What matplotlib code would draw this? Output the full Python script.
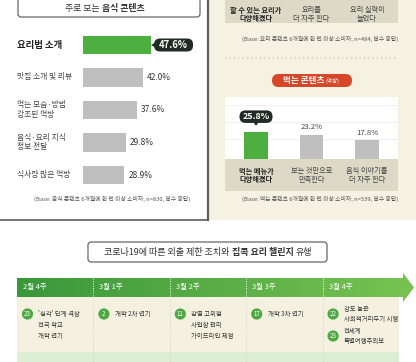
import numpy as np
import matplotlib
matplotlib.use('Agg')
import matplotlib.pyplot as plt
from matplotlib import transforms
from matplotlib.patches import FancyBboxPatch, Rectangle, Polygon, Circle

plt.rcParams['font.family'] = ['Noto Sans CJK KR', 'DejaVu Sans']

# 주로 보는 음식 콘텐츠
content_labels = ['요리법 소개', '맛집 소개 및 리뷰', '먹는 모습·방법\n강조된 먹방',
                  '음식·요리 지식\n정보 전달', '식사량 많은 먹방']
content_values = [47.6, 42.0, 37.6, 29.8, 28.9]

# 요리 콘텐츠 (윗부분만 보임)
cook_labels = ['할 수 있는 요리가\n다양해졌다', '요리를\n더 자주 한다', '요리 실력이\n늘었다']

# 먹는 콘텐츠 (먹방)
eat_labels = ['먹는 메뉴가\n다양해졌다', '보는 것만으로\n만족한다', '음식 이야기를\n더 자주 한다']
eat_values = [25.8, 23.2, 17.8]

notes = ['(Base: 음식 콘텐츠 6개월에 한 번 이상 소비자, n=830, 복수 응답)',
         '(Base: 요리 콘텐츠 6개월에 한 번 이상 소비자, n=484, 복수 응답)',
         '(Base: 먹는 콘텐츠 6개월에 한 번 이상 소비자, n=539, 복수 응답)']

# 타임라인
weeks = ['2월 4주', '3월 1주', '3월 2주', '3월 3주', '3월 4주']
event_week = [0, 1, 2, 3, 4, 4]
event_day = ['23', '2', '11', '17', '22', '23']
event_text = ["'심각' 단계 격상\n전국 학교\n개학 연기", '개학 2차 연기',
              '감염 고위험\n사업장 관리\n가이드라인 제정', '개학 3차 연기',
              '강도 높은\n사회적거리두기 시행', '전세계\n특별여행주의보']

W, H = 416, 362
GREEN = '#4caf40'
GRAY = '#bfbfbf'
DARK = '#1f2b23'
CREAM = '#f6f2e3'
BAND = '#dcd9c7'

fig = plt.figure(figsize=(W / 100, H / 100), dpi=100)


def pixel_axes(z):
    a = fig.add_axes([0, 0, 1, 1], zorder=z)
    a.set_xlim(0, W)
    a.set_ylim(H, 0)
    a.axis('off')
    a.patch.set_alpha(0)
    return a


canvas = pixel_axes(0)    # 배경
over = pixel_axes(5)      # 글자, 말풍선


def px_axes(x, y, w, h, **kw):
    return fig.add_axes([x / W, 1 - (y + h) / H, w / W, h / H], zorder=1, **kw)


def rich_text(x, y, parts, color='#333333', gap=0):
    # parts: (텍스트, 굵기, 크기) 를 이어 붙여 가운데 정렬
    r = fig.canvas.get_renderer()
    texts = [over.text(0, y, s, fontsize=sz, fontweight=wt, color=color,
                       va='center', ha='left') for s, wt, sz in parts]
    widths = [t.get_window_extent(r).width for t in texts]
    cur = x - (sum(widths) + gap * (len(texts) - 1)) / 2
    for t, w in zip(texts, widths):
        t.set_x(cur)
        cur += w + gap


def to_px(ax, x, y):
    return over.transData.inverted().transform(ax.transData.transform((x, y)))


# ---------- 배경 ----------
canvas.add_patch(Rectangle((208, 0), W - 208, 220, fc=CREAM, ec='none'))
canvas.plot([207.5, 207.5], [0, 220], color='#5a5f5a', lw=1.6)
canvas.plot([0, 207.5], [220, 220], color='#5a5f5a', lw=1.2)

# ---------- 왼쪽: 주로 보는 음식 콘텐츠 ----------
canvas.add_patch(FancyBboxPatch((18, -10), 182, 27, boxstyle='round,pad=0,rounding_size=3',
                                fc='white', ec='#555555', lw=0.8))
rich_text(105, 8.5, [('주로 보는', 'normal', 6.4), ('음식 콘텐츠', 'bold', 6.4)], gap=3)

axL = px_axes(83, 28.75, 124, 162.5)
axL.barh(range(len(content_values)), content_values, height=0.58,
         color=[GREEN] + [GRAY] * (len(content_values) - 1))
axL.set_xlim(0, 124 / 1.43)
axL.set_ylim(len(content_values) - 0.5, -0.5)
axL.axis('off')

trL = transforms.blended_transform_factory(over.transData, axL.transData)
for i, (lab, v) in enumerate(zip(content_labels, content_values)):
    bx, by = to_px(axL, v, i)
    if i == 0:
        over.text(17, i, lab, transform=trL, fontsize=6.8, fontweight='bold',
                  color='#222222', va='center', ha='left')
        over.add_patch(FancyBboxPatch((bx + 3, by - 6.5), 39, 13,
                                      boxstyle='round,pad=0,rounding_size=6',
                                      fc=DARK, ec='none'))
        over.add_patch(Polygon([(bx, by), (bx + 5, by - 3), (bx + 5, by + 3)],
                               fc=DARK, ec='none'))
        over.text(bx + 22.5, by, f'{v:.1f}%', fontsize=6.8, fontweight='bold',
                  color='white', va='center', ha='center')
    else:
        over.text(17, i, lab, transform=trL, fontsize=5.6, color='#444444',
                  va='center', ha='left', linespacing=1.3)
        over.text(bx + 4, by, f'{v:.1f}%', fontsize=6, color='#333333',
                  va='center', ha='left')

over.text(112, 199, notes[0], fontsize=4.2, color='#555555', ha='center', va='center')

# ---------- 오른쪽 위: 요리 콘텐츠 ----------
canvas.add_patch(Rectangle((225, -5), 173, 28, fc=BAND, ec='none'))
over.text(320, 39, notes[1], fontsize=4.2, color='#555555', ha='center', va='center')
canvas.plot([225, 398], [58, 58], color='#d8d4c2', lw=1.3, ls=(0, (0.8, 1.6)))

# ---------- 오른쪽 아래: 먹는 콘텐츠 ----------
canvas.add_patch(FancyBboxPatch((272, 74), 80, 13, boxstyle='round,pad=0,rounding_size=6.5',
                                fc='#d6472a', ec='none'))
rich_text(311, 80.5, [('먹는 콘텐츠', 'bold', 6.2), ('(먹방)', 'normal', 4.0)],
          color='white', gap=1.5)

axR = px_axes(225, 97, 173, 62, facecolor='white')
axR.bar(range(len(eat_values)), eat_values, width=0.42,
        color=[GREEN] + [GRAY] * (len(eat_values) - 1), zorder=3)
axR.set_xlim(-0.559, 2.559)
axR.set_ylim(0, 62 / 1.05)
axR.set_yticks(np.arange(19, 59, 16))
axR.grid(axis='y', color='#eeeeee', lw=0.6)
axR.tick_params(length=0, labelleft=False, labelbottom=False)
for s in axR.spines.values():
    s.set_visible(False)

canvas.add_patch(Rectangle((225, 159), 173, 32, fc=BAND, ec='none'))
trR = transforms.blended_transform_factory(axR.transData, over.transData)
for i, (lab, top_lab, v) in enumerate(zip(eat_labels, cook_labels, eat_values)):
    wt = 'bold' if i == 0 else 'normal'
    col = '#222222' if i == 0 else '#444444'
    over.text(i, 175.5, lab, transform=trR, fontsize=5.2, fontweight=wt, color=col,
              ha='center', va='center', linespacing=1.3)
    over.text(i, 14.5, top_lab, transform=trR, fontsize=5.2, fontweight=wt, color=col,
              ha='center', va='center', linespacing=1.3)
    bx, by = to_px(axR, i, v)
    if i == 0:
        over.add_patch(FancyBboxPatch((bx - 16.5, by - 21.5), 33, 12.5,
                                      boxstyle='round,pad=0,rounding_size=6',
                                      fc=DARK, ec='none'))
        over.add_patch(Polygon([(bx - 2.5, by - 9.5), (bx + 2.5, by - 9.5), (bx, by - 6)],
                               fc=DARK, ec='none'))
        over.text(bx, by - 15.3, f'{v:.1f}%', fontsize=6.4, fontweight='bold',
                  color='white', ha='center', va='center')
    else:
        over.text(bx, by - 7.5, f'{v:.1f}%', fontsize=5.6, color='#444444',
                  ha='center', va='center')

over.text(320, 199, notes[2], fontsize=4.2, color='#555555', ha='center', va='center')

# ---------- 아래: 타임라인 ----------
canvas.add_patch(FancyBboxPatch((88, 242), 239, 20, boxstyle='round,pad=0,rounding_size=3',
                                fc='white', ec='#555555', lw=0.8))
rich_text(208, 252, [('코로나19에 따른 외출 제한 조치와', 'normal', 6.5),
                     ('집콕 요리 챌린지', 'bold', 6.5), ('유행', 'normal', 6.5)], gap=2.5)

x_left, x_right = 17, 399
col_w = (x_right - x_left) / len(weeks)
arrow = Polygon([(x_left, 278), (403, 278), (403, 273), (414, 287.5),
                 (403, 302), (403, 297), (x_left, 297)], closed=True,
                fc='none', ec='none')
canvas.add_patch(arrow)
grad = np.linspace(0, 1, 256)[None, :]
cmap = matplotlib.colors.LinearSegmentedColormap.from_list('g', ['#3a983a', '#78c352'])
im = canvas.imshow(grad, cmap=cmap, extent=[x_left, 414, 302, 273], aspect='auto', zorder=1)
im.set_clip_path(arrow)
canvas.set_xlim(0, W)
canvas.set_ylim(H, 0)

canvas.add_patch(Rectangle((x_left, 297), x_right - x_left, 55, fc='#f4f1e1', ec='none'))
canvas.add_patch(Rectangle((x_left, 352), x_right - x_left, 12, fc='#dcefd4', ec='none'))

for k, wk in enumerate(weeks):
    x0 = x_left + k * col_w
    over.text(x0 + 6, 287.5, wk, fontsize=5.4, color='white', fontweight='medium',
              ha='left', va='center')
    if k > 0:
        canvas.plot([x0, x0], [278, 297], color='white', lw=0.7, ls=(0, (1, 1.5)), zorder=3)
        canvas.plot([x0, x0], [297, 362], color='#d6d2c0', lw=0.7, ls=(0, (1, 1.5)))

for k in range(len(weeks)):
    idx = [j for j, w in enumerate(event_week) if w == k]
    x0 = x_left + k * col_w
    for row, j in enumerate(idx):
        cy = 314 + row * 22
        over.add_patch(Circle((x0 + 10.5, cy), 5.6, fc='#4ea944', ec='none'))
        over.text(x0 + 10.5, cy, event_day[j], fontsize=4.4, color='white',
                  ha='center', va='center')
        if len(idx) > 1:
            over.text(x0 + 21.5, cy, event_text[j], fontsize=4.6, color='#333333',
                      ha='left', va='center', linespacing=1.25)
        else:
            over.text(x0 + 21.5, cy - 3.8, event_text[j], fontsize=4.6, color='#333333',
                      ha='left', va='top', linespacing=1.45)

fig.savefig('out.png', dpi=100)
